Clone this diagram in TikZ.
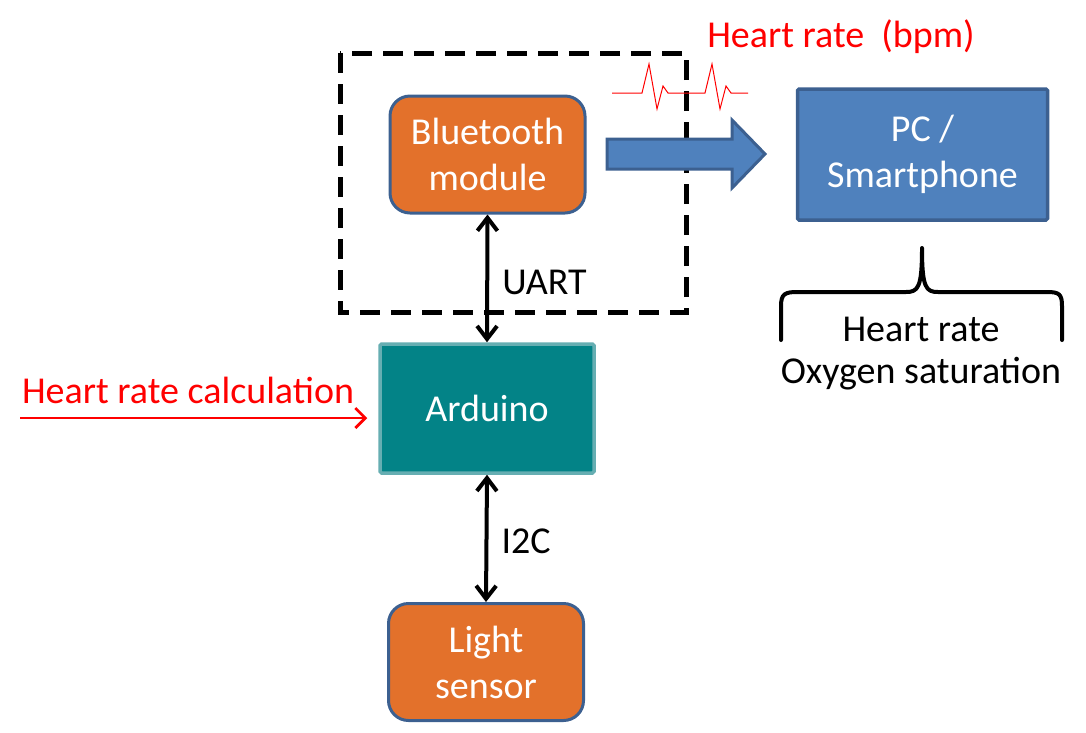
\documentclass[tikz,border=0pt]{standalone}
\usepackage{fontspec}
\setmainfont{Carlito}
\usetikzlibrary{arrows.meta}
\definecolor{orfill}{HTML}{E3712B}
\definecolor{bdblue}{HTML}{3C6090}
\definecolor{pcblue}{HTML}{4F81BD}
\definecolor{tealf}{HTML}{038387}
\definecolor{tealb}{HTML}{66AEB2}
\tikzset{
  base/.style={font=\fontsize{38}{46}\selectfont, align=center, inner sep=0pt},
  orbox/.style={base, draw=bdblue, fill=orfill, text=white, line width=3pt, rounded corners=20pt, minimum width=195pt, minimum height=117pt},
  pcbox/.style={base, draw=bdblue, fill=pcblue, text=white, line width=3.5pt, rounded corners=1.5pt, minimum width=250pt, minimum height=131pt},
  ardbox/.style={base, draw=tealb, fill=tealf, text=white, line width=3.5pt, rounded corners=1.5pt, minimum width=214pt, minimum height=129pt},
  lbl/.style={base, text=black},
  redlbl/.style={base, text=red},
  dbl/.style={line width=4pt, {Straight Barb[length=13pt,width=20pt,line width=4pt]}-{Straight Barb[length=13pt,width=20pt,line width=4pt]}},
}
\begin{document}
\begin{tikzpicture}[x=1pt,y=-1pt]
\useasboundingbox (0,0) rectangle (1086,732);
% dashed boundary
\draw[line width=5pt, dash pattern=on 20pt off 11pt] (340,53) rectangle (686,312);
% nodes
\node[orbox] (bt) at (487.5,154.5) {Bluetooth\\module};
\node[pcbox] (pc) at (922.5,154.5) {PC /\\Smartphone};
\node[ardbox] (ard) at (487,408.5) {Arduino};
\node[orbox] (ls) at (486,662) {Light\\sensor};
% connectors
\draw[dbl] (bt.south) -- node[lbl, anchor=west, xshift=13pt, yshift=-4pt] (uart) {UART} (ard.north);
\draw[dbl] (ard.south) -- node[lbl, anchor=west, xshift=13pt, yshift=-3pt] (i2c) {I2C} (ls.north);
% big arrow
\coordinate (a0) at (607,154);
\draw[draw=bdblue, fill=pcblue, line width=3pt, line join=miter]
  (a0) ++(0,-15) -- (732,139) -- (732,120) -- (765,154) -- (732,188) -- (732,169) -- (607,169) -- cycle;
% heart rate label and waveform
\node[redlbl] (hr) at (841,37) {Heart rate~~(bpm)};
\draw[red, line width=1pt, line join=miter]
  (612,93) -- (642,93) -- (649,64) -- (657,109) -- (663,86) -- (668,93)
  -- (705,93) -- (712,64) -- (720,109) -- (726,86) -- (731,93) -- (748,93);
% brace under PC
\coordinate (tip) at (922,248);
\draw[line width=4pt, line cap=round, line join=round]
  (781,340) -- (781,306) .. controls (781,294) and (785,292) .. (797,292) -- (906,292)
  .. controls (918,292) and (922,288) .. (tip)
  .. controls (922,288) and (926,292) .. (938,292) -- (1047,292)
  .. controls (1059,292) and (1062,294) .. (1062,306) -- (1062,340);
\node[lbl] (hr2) at (921,329) {Heart rate};
\node[lbl] (oxy) at (921,374) {Oxygen saturation};
% heart rate calculation
\node[redlbl] (calc) at (188,390) {Heart rate calculation};
\coordinate (cstart) at (20,418);
\draw[red, line width=2.8pt, shorten >=11pt, -{Straight Barb[length=10pt,width=20pt,line width=2.8pt]}] (cstart) -- (ard.west |- cstart);
\end{tikzpicture}
\end{document}
